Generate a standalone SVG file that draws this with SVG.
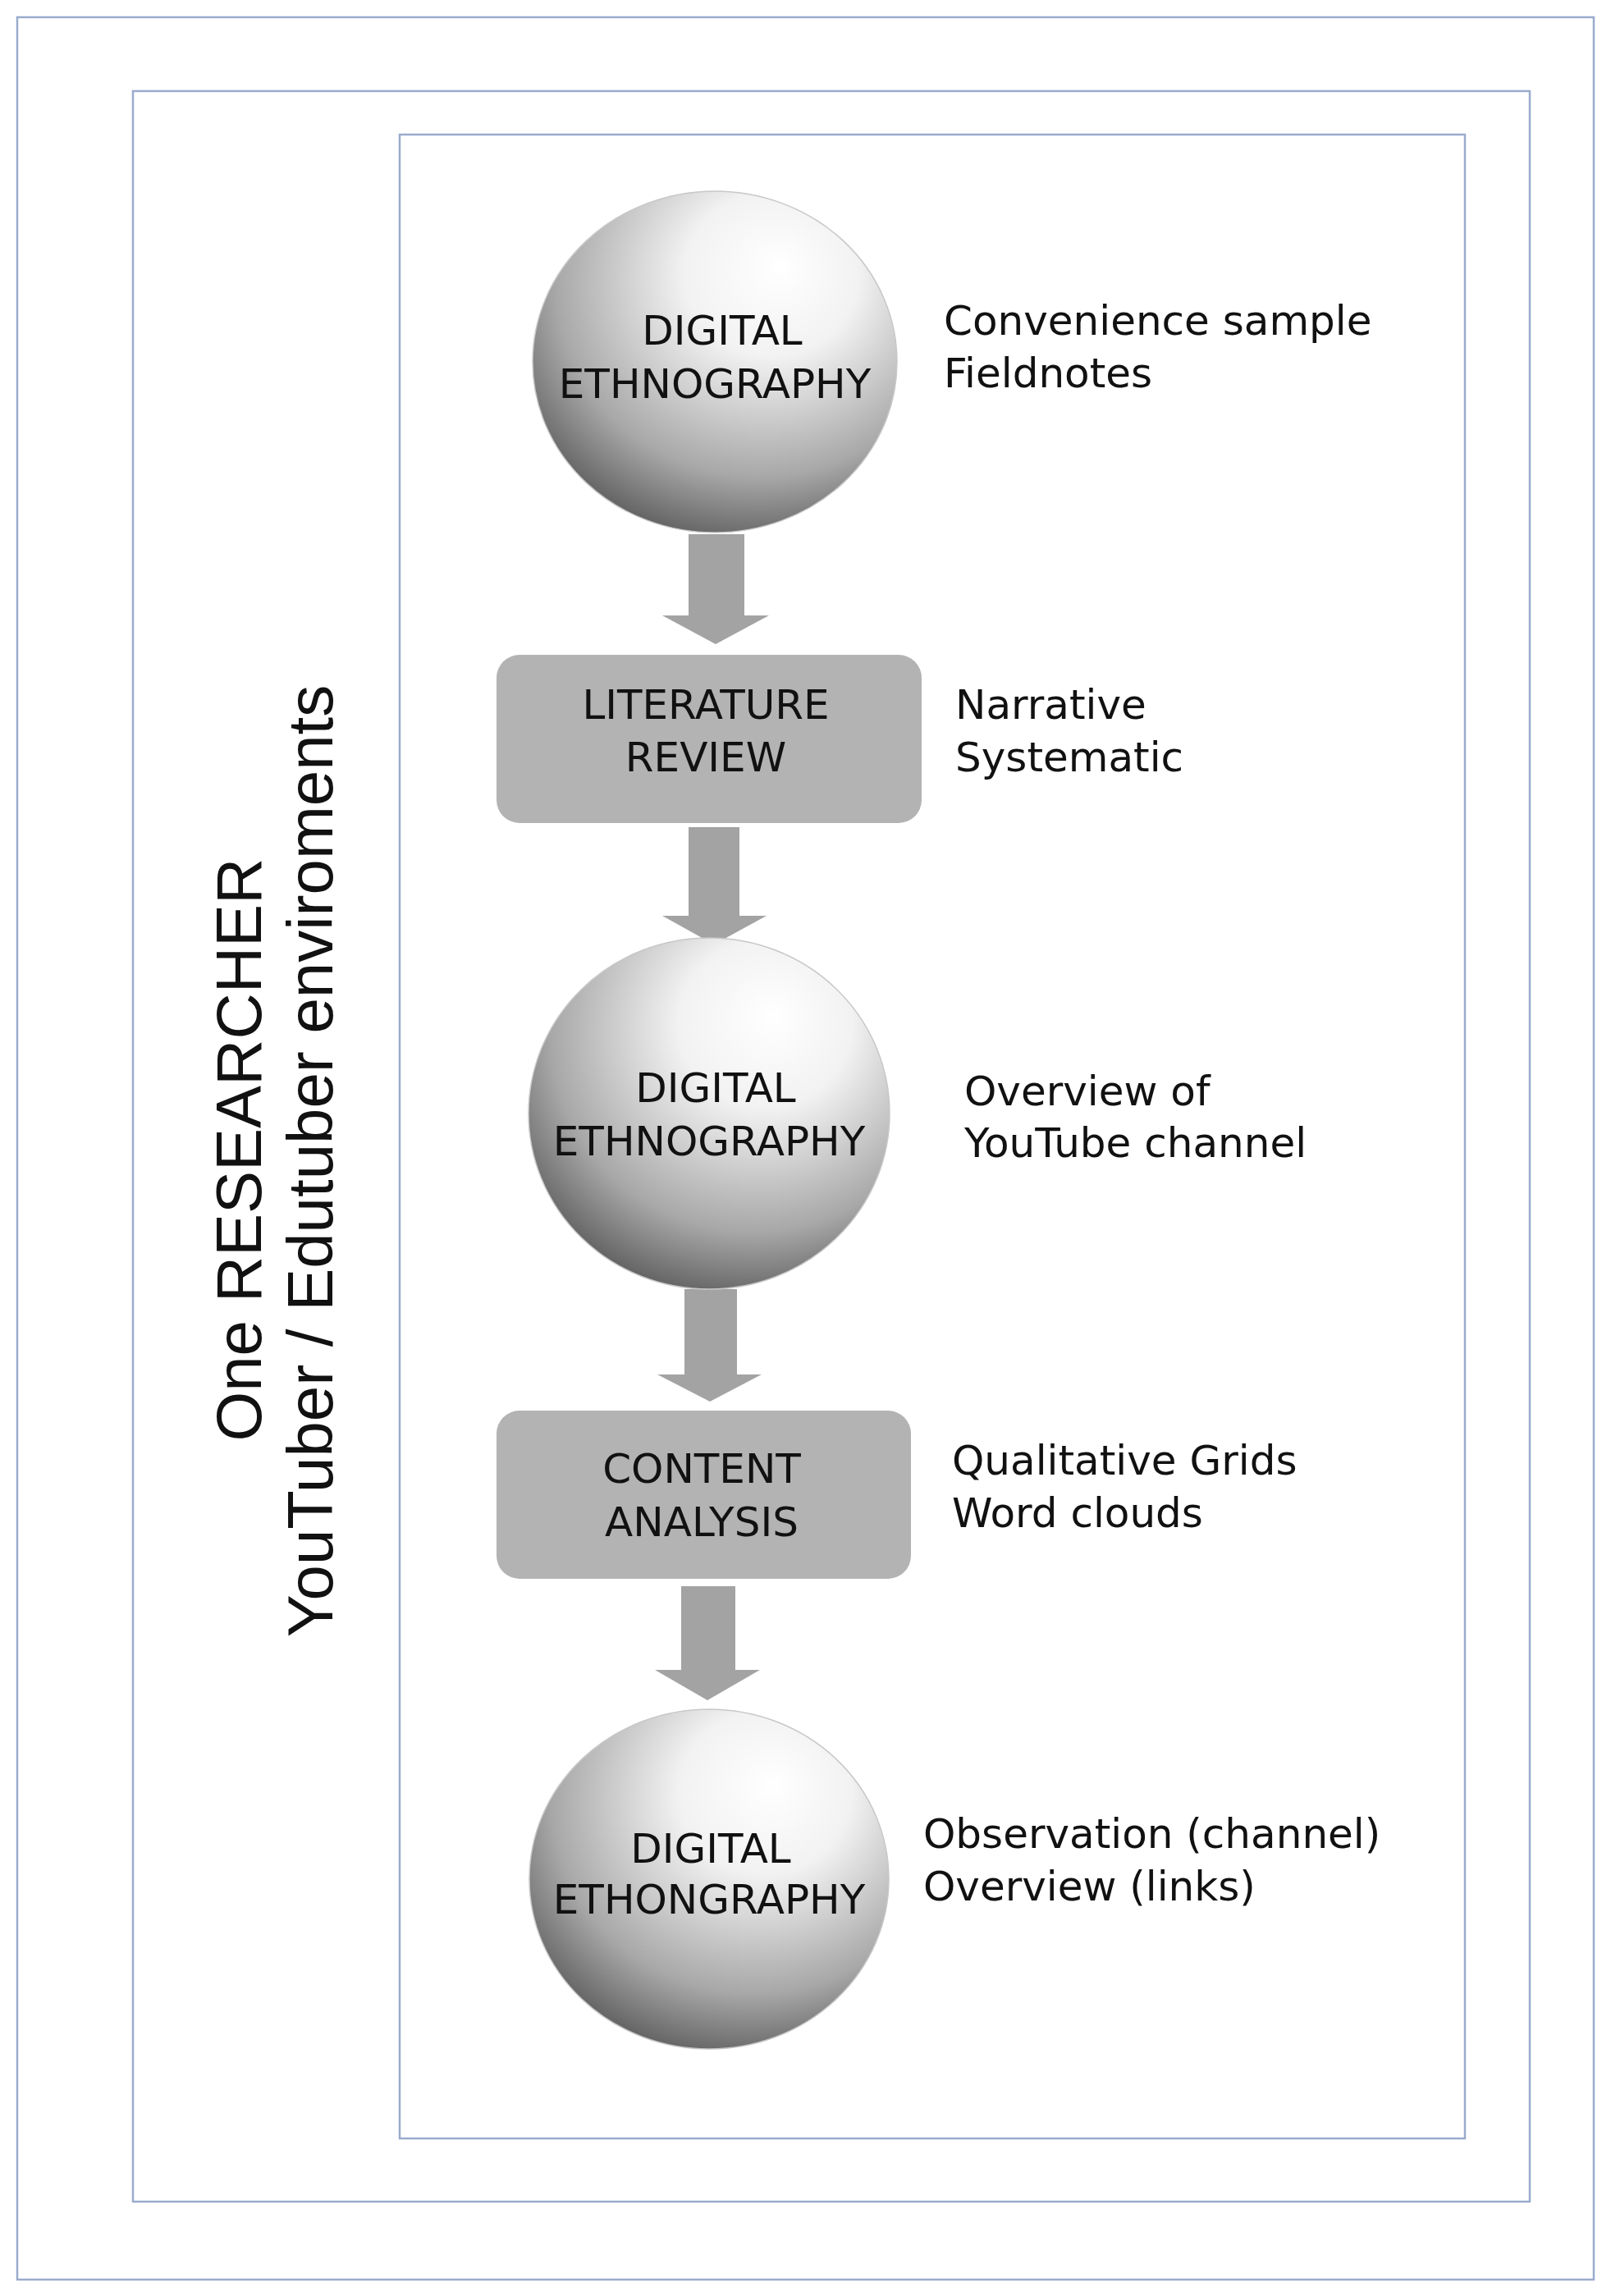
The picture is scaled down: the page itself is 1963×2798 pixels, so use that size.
<svg xmlns="http://www.w3.org/2000/svg" width="1963" height="2798" viewBox="0 0 1963 2798">
<style>
.frame{fill:none;stroke:#9aabcc;stroke-width:2.5}
.sph{fill:url(#g);stroke:#c8c8c8;stroke-width:1.5}
.box{fill:#b3b3b3}
.arr{fill:#a3a3a3}
.t{font-family:"DejaVu Sans",sans-serif;font-size:50px;fill:#111;text-anchor:middle}
.l{font-family:"DejaVu Sans",sans-serif;font-size:50px;fill:#111}
.v{font-family:"Liberation Sans",Arial,sans-serif;font-size:78px;fill:#111;text-anchor:middle}
</style>
<defs>
<radialGradient id="g" cx="0.6" cy="0.3" r="0.8" fx="0.68" fy="0.22">
<stop offset="0" stop-color="#ffffff"/>
<stop offset="0.3" stop-color="#f2f2f2"/>
<stop offset="0.7" stop-color="#a8a8a8"/>
<stop offset="1" stop-color="#4a4a4a"/>
</radialGradient>
</defs>
<rect width="1963" height="2798" fill="#fff"/>
<rect class="frame" x="21" y="21" width="1921" height="2757"/>
<rect class="frame" x="162" y="111" width="1702" height="2572"/>
<rect class="frame" x="487" y="164" width="1298" height="2442"/>
<g id="side">
<text class="v" transform="translate(318,1401) rotate(-90)">One RESEARCHER</text>
<text class="v" transform="translate(405,1415) rotate(-90)">YouTuber / Edutuber enviroments</text>
</g>
<g id="connectors">
<path class="arr" d="M839 651H907V750H937L872 785L807 750H839Z"/>
<path class="arr" d="M839 1008H901V1116H934L870 1151L807 1116H839Z"/>
<path class="arr" d="M834 1571H898V1675H928L865 1708L801 1675H834Z"/>
<path class="arr" d="M830 1933H896V2035H926L862 2072L798 2035H830Z"/>
</g>
<g id="n1">
<ellipse class="sph" cx="871" cy="441" rx="222" ry="208"/>
<text class="t" x="880" y="420">DIGITAL</text>
<text class="t" x="871" y="485">ETHNOGRAPHY</text>
<text class="l" x="1150" y="408">Convenience sample</text>
<text class="l" x="1150" y="472">Fieldnotes</text>
</g>
<g id="n2">
<rect class="box" x="605" y="798" width="518" height="205" rx="28"/>
<text class="t" x="860" y="876">LITERATURE</text>
<text class="t" x="860" y="940">REVIEW</text>
<text class="l" x="1164" y="876">Narrative</text>
<text class="l" x="1164" y="940">Systematic</text>
</g>
<g id="n3">
<ellipse class="sph" cx="864" cy="1357" rx="220" ry="214"/>
<text class="t" x="872" y="1343">DIGITAL</text>
<text class="t" x="864" y="1408">ETHNOGRAPHY</text>
<text class="l" x="1175" y="1347">Overview of</text>
<text class="l" x="1175" y="1410">YouTube channel</text>
</g>
<g id="n4">
<rect class="box" x="605" y="1719" width="505" height="205" rx="28"/>
<text class="t" x="855" y="1807">CONTENT</text>
<text class="t" x="855" y="1872">ANALYSIS</text>
<text class="l" x="1160" y="1797">Qualitative Grids</text>
<text class="l" x="1160" y="1861">Word clouds</text>
</g>
<g id="n5">
<ellipse class="sph" cx="864" cy="2290" rx="219" ry="207"/>
<text class="t" x="866" y="2270">DIGITAL</text>
<text class="t" x="864" y="2332">ETHONGRAPHY</text>
<text class="l" x="1125" y="2252">Observation (channel)</text>
<text class="l" x="1125" y="2316">Overview (links)</text>
</g>
</svg>
